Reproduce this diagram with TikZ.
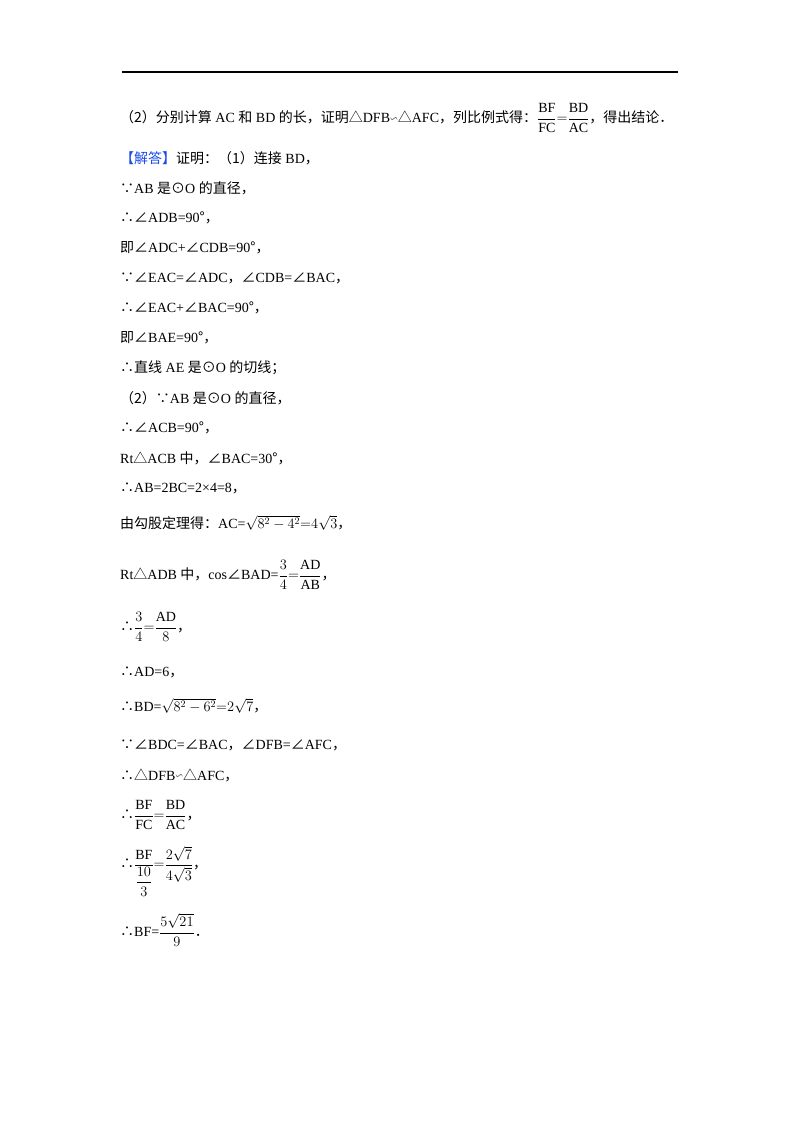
\documentclass[tikz,border=0pt]{standalone}
\usepackage{amsmath,amssymb}
\usepackage{fontspec}
\setmainfont{Liberation Serif}
\newfontfamily\cjk{Noto Sans CJK SC}
\newcommand\zz[1]{{\cjk #1}}
\newcommand\rr[1]{\mathrm{#1}}
\newcommand\sm{{\fontsize{10}{10}\selectfont\raisebox{0.3ex}{$\backsim$}}}
\begin{document}
\begin{tikzpicture}[x=1pt,y=-1pt,
  ln/.style={anchor=west,inner sep=0pt,font=\fontsize{14}{16}\selectfont}]
\useasboundingbox (0,0) rectangle (800,1132);
\draw[line width=1.2pt] (122,72) coordinate (r1) -- (678,72) coordinate (r2);
\node[ln] (l1) at (120,118) {\zz{（2）分别计算} AC \zz{和} BD \zz{的长，证明△}DFB\sm\zz{△}AFC\zz{，列比例式得：}$\dfrac{\rr{BF}}{\rr{FC}}{=}\dfrac{\rr{BD}}{\rr{AC}}$\zz{，得出结论．}};
\node[ln] (l2) at (120,158) {\zz{\textcolor[rgb]{0.1,0.3,0.9}{【解答】}证明：（1）连接} BD\zz{，}};
\node[ln] (l3) at (120,188) {\zz{∵}AB \zz{是⊙}O \zz{的直径，}};
\node[ln] (l4) at (120,218) {\zz{∴∠}ADB=90\zz{°，}};
\node[ln] (l5) at (120,248) {\zz{即∠}ADC+\zz{∠}CDB=90\zz{°，}};
\node[ln] (l6) at (120,278) {\zz{∵∠}EAC=\zz{∠}ADC\zz{，∠}CDB=\zz{∠}BAC\zz{，}};
\node[ln] (l7) at (120,308) {\zz{∴∠}EAC+\zz{∠}BAC=90\zz{°，}};
\node[ln] (l8) at (120,338) {\zz{即∠}BAE=90\zz{°，}};
\node[ln] (l9) at (120,368) {\zz{∴直线} AE \zz{是⊙}O \zz{的切线；}};
\node[ln] (l10) at (120,398) {\zz{（2）∵}AB \zz{是⊙}O \zz{的直径，}};
\node[ln] (l11) at (120,428) {\zz{∴∠}ACB=90\zz{°，}};
\node[ln] (l12) at (120,458) {Rt\zz{△}ACB \zz{中，∠}BAC=30\zz{°，}};
\node[ln] (l13) at (120,488) {\zz{∴}AB=2BC=2×4=8\zz{，}};
\node[ln] (l14) at (120,523) {\zz{由勾股定理得：}AC=$\sqrt{8^2-4^2}{=}4\sqrt{3}$\zz{，}};
\node[ln] (l15) at (120,575) {Rt\zz{△}ADB \zz{中，}cos\zz{∠}BAD=$\dfrac{3}{4}{=}\dfrac{\rr{AD}}{\rr{AB}}$\zz{，}};
\node[ln] (l16) at (120,627) {\zz{∴}$\dfrac{3}{4}{=}\dfrac{\rr{AD}}{8}$\zz{，}};
\node[ln] (l17) at (120,672) {\zz{∴}AD=6\zz{，}};
\node[ln] (l18) at (120,706) {\zz{∴}BD=$\sqrt{8^2-6^2}{=}2\sqrt{7}$\zz{，}};
\node[ln] (l19) at (120,745) {\zz{∵∠}BDC=\zz{∠}BAC\zz{，∠}DFB=\zz{∠}AFC\zz{，}};
\node[ln] (l20) at (120,775) {\zz{∴△}DFB\sm\zz{△}AFC\zz{，}};
\node[ln] (l21) at (120,815) {\zz{∴}$\dfrac{\rr{BF}}{\rr{FC}}{=}\dfrac{\rr{BD}}{\rr{AC}}$\zz{，}};
\node[ln] (l22) at (120,871) {\zz{∴}$\dfrac{\rr{BF}}{\dfrac{10}{3}}{=}\dfrac{2\sqrt{7}}{4\sqrt{3}}$\zz{，}};
\node[ln] (l23) at (120,930) {\zz{∴}BF=$\dfrac{5\sqrt{21}}{9}$\zz{．}};
\end{tikzpicture}
\end{document}
